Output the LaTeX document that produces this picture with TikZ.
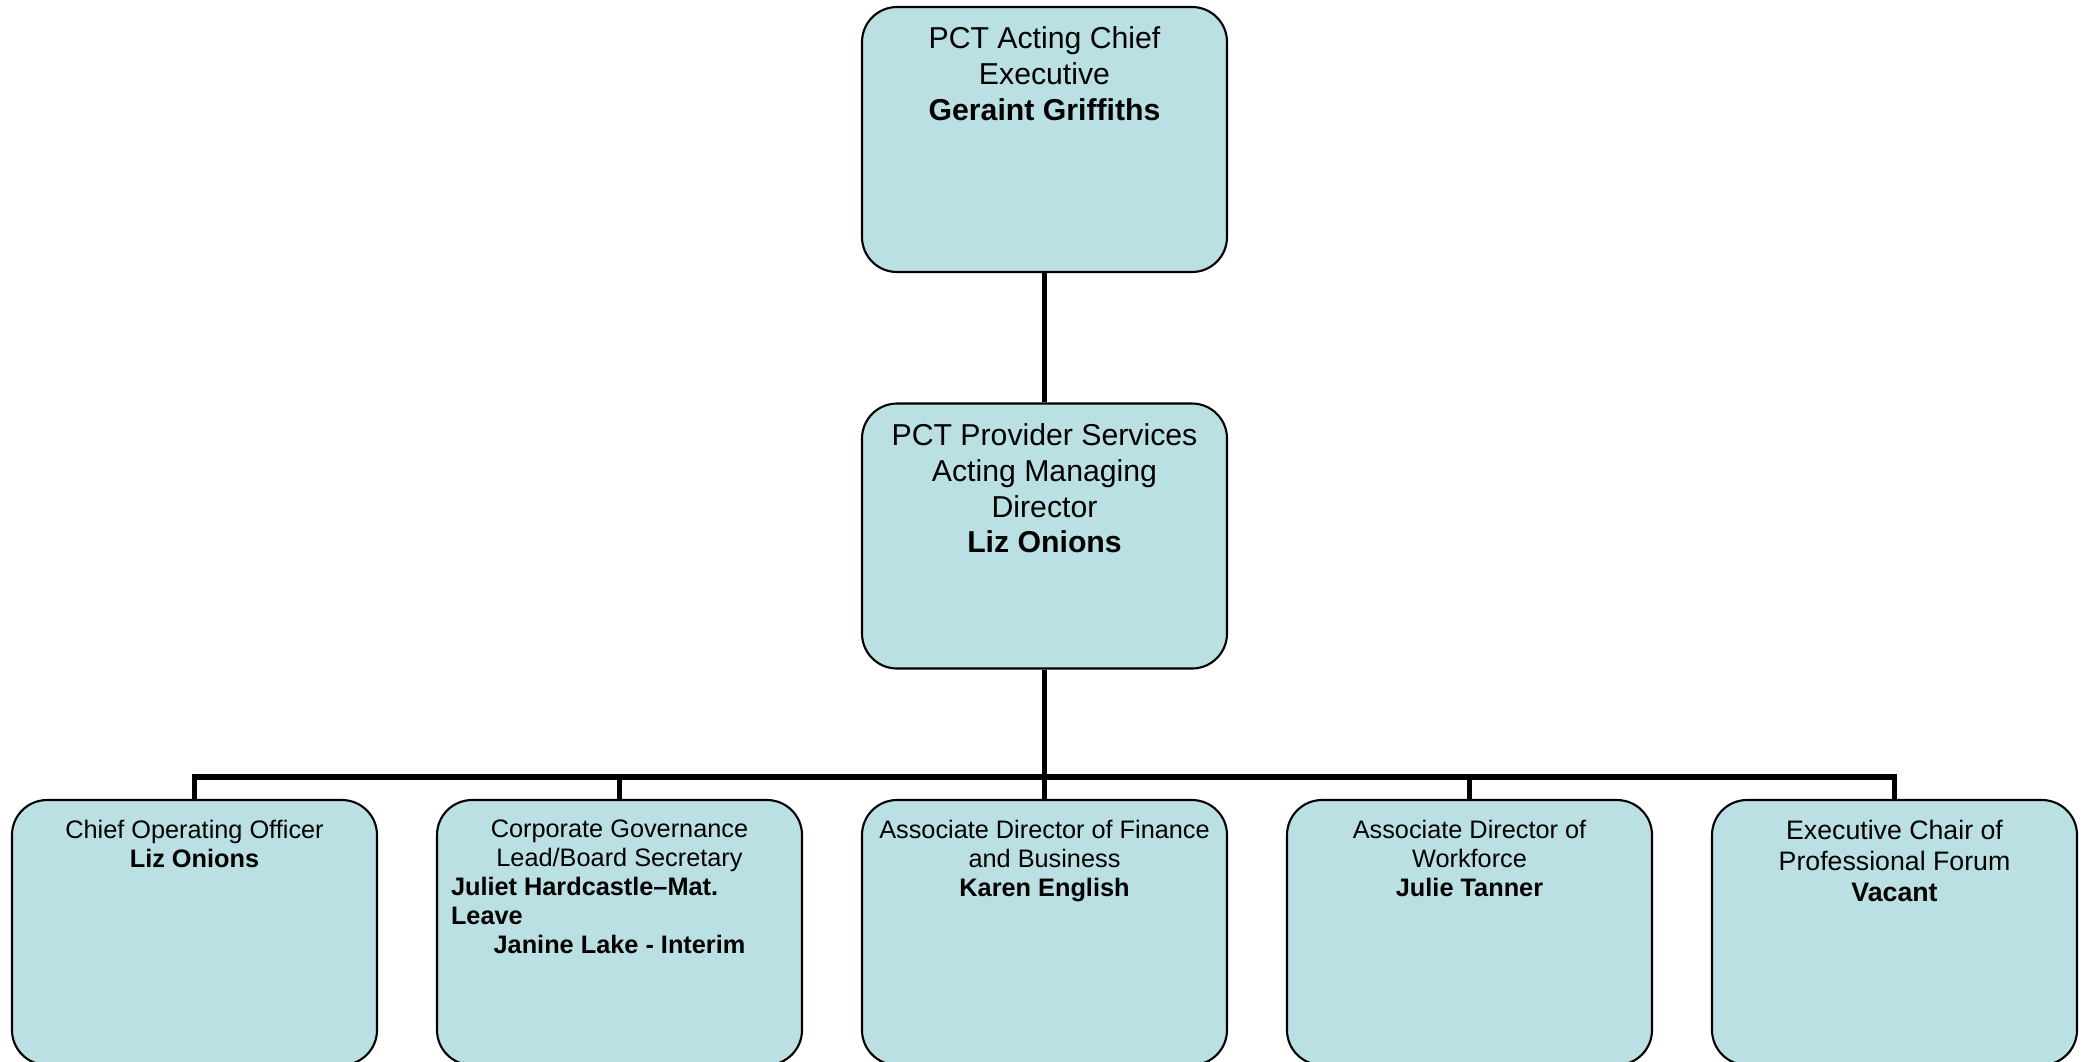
\documentclass[tikz,border=0pt]{standalone}
\usepackage{fontspec}
\setmainfont{Liberation Sans}
\usetikzlibrary{arrows}
\definecolor{boxblue}{RGB}{187,224,227}

\begin{document}
\begin{tikzpicture}[
            node distance = 4.25cm, % centre to centre of the lower boxes
            link/.style = {line width = 1.6pt, line join = miter} % tree lines
        ]

        \tikzstyle{post}=[
            draw = black,
            line width = 0.6pt,
            fill = boxblue,
            rounded corners = 0.35cm,
            inner xsep = 0.14cm,
            inner ysep = 0.2cm,
            execute at begin node = {\begin{minipage}[t][2.25cm][t]{3.37cm}\centering},
            execute at end node = {\end{minipage}}
        ]
        \tikzstyle{head}=[post, font = \fontsize{8.6}{10.2}\selectfont]
        \tikzstyle{dept}=[post, font = \fontsize{7.2}{8.25}\selectfont]

        \useasboundingbox (0,0) rectangle (20.87,-10.61);

        \node[head] (ceo) at (10.445,-1.395) {PCT Acting Chief\\ Executive\\ \textbf{Geraint Griffiths}};
        \node[head] (md) [below of=ceo, node distance=3.965cm] {PCT Provider Services\\ Acting Managing\\ Director\\ \textbf{Liz Onions}};

        \node[dept] (fin) [below of=md, node distance=3.965cm] {Associate Director of Finance\\ and Business\\ \textbf{Karen English}};
        \node[dept] (gov) [left of=fin] {Corporate Governance\\ Lead/Board Secretary\par
            {\raggedright\bfseries Juliet Hardcastle--Mat.\\ Leave\par}
            \textbf{Janine Lake - Interim}};
        \node[dept] (coo) [left of=gov] {Chief Operating Officer\\ \textbf{Liz Onions}};
        \node[dept] (wf) [right of=fin] {Associate Director of\\ Workforce\\ \textbf{Julie Tanner}};
        \node[dept, font = \fontsize{7.6}{8.8}\selectfont] (forum) [right of=wf] {Executive Chair of\\ Professional Forum\\ \textbf{Vacant}};

        \draw[link] (ceo) -- (md);
        \draw[link] (md.south) -- ++(0,-1.075) coordinate (bar);
        \draw[link] (bar) -| (coo);
        \draw[link] (bar) -| (gov);
        \draw[link] (bar) -- (fin);
        \draw[link] (bar) -| (wf);
        \draw[link] (bar) -| (forum);

    \end{tikzpicture}
\end{document}
